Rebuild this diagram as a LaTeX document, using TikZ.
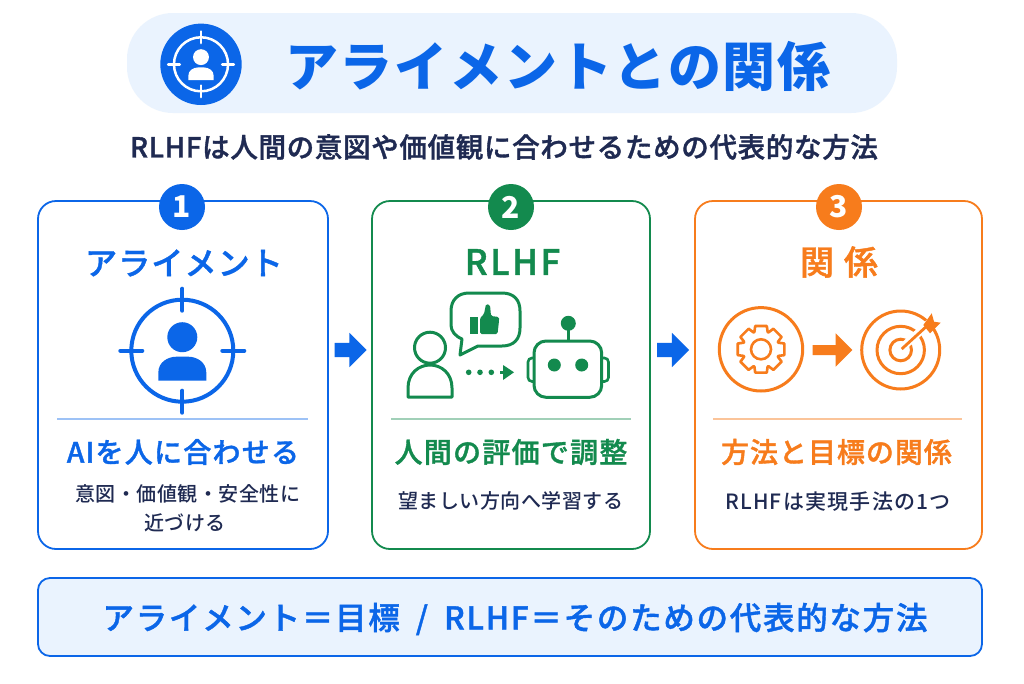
\documentclass[tikz,border=0pt]{standalone}
\usepackage{fontspec}
\setmainfont{Noto Sans CJK JP}
\newfontfamily\jpmedium{Noto Sans CJK JP Medium}
\newfontfamily\jpsemi{Noto Sans CJK JP Medium}[FakeBold=1.3]
\usetikzlibrary{shapes.arrows}
\definecolor{aiblue}{HTML}{0B66E8}
\definecolor{paleblue}{HTML}{EAF3FE}
\definecolor{rlgreen}{HTML}{138A4E}
\definecolor{relorange}{HTML}{F77C1C}
\definecolor{inkdark}{HTML}{1F2A52}
\tikzset{
	card/.style={draw,line width=1.8pt,rounded corners=18pt,fill=white,minimum height=348pt},
	badge/.style={circle,inner sep=0pt,minimum size=46pt,text=white,font=\fontsize{30}{32}\selectfont\bfseries},
	headtext/.style={font=\fontsize{32}{36}\jpsemi\selectfont\addfontfeature{LetterSpace=3.6}},
	subtext/.style={font=\fontsize{28}{32}\jpsemi\selectfont\addfontfeature{LetterSpace=4.5}},
	bodytext/.style={text=inkdark,font=\fontsize{20}{24}\jpmedium\selectfont\addfontfeature{LetterSpace=2.5}},
	blockarrow/.style={single arrow,fill=aiblue,inner sep=7pt,minimum height=32pt,single arrow head extend=10pt,single arrow head indent=0pt,xshift=-3pt},
	bigarrow/.style={fill=relorange},
	iconline/.style={line width=3pt,line join=round},
}
% target with a person inside: centre, scale, colour, ring width
\newcommand{\aimicon}[4]{
	\begin{scope}[shift={#1},scale=#2]
		\draw[#3,line width=#4] (0,0) circle (51);
		\foreach \a in {0,90,180,270}
			\draw[#3,line width=#4,line cap=round,rotate=\a] (40,0) -- (62,0);
		\fill[#3] (0,-13.5) circle (15);
		\fill[#3] (-24,30) -- (-24,22) .. controls (-24,11) and (-14,6) .. (-6,6) -- (6,6) .. controls (14,6) and (24,11) .. (24,22) -- (24,30) -- cycle;
	\end{scope}
}
\begin{document}
\begin{tikzpicture}[x=1pt,y=-1pt]
	\useasboundingbox (0,0) rectangle (1024,683);
	\fill[white] (0,0) rectangle (1024,683);
	% title
	\node[fill=paleblue,rounded corners=46pt,minimum width=770pt,minimum height=100pt] (titlepill) at (512,63) {};
	\fill[aiblue] (201,64.3) circle (40.7);
	\aimicon{(201,64.3)}{0.53}{white}{2.5pt}
	\node[text=aiblue,font=\fontsize{53}{60}\selectfont\bfseries\addfontfeature{LetterSpace=3.4}] (titletext) at (558,66) {アライメントとの関係};
	\node[text=inkdark,font=\fontsize{27.5}{32}\jpsemi\selectfont\addfontfeature{LetterSpace=2.5}] (subtitle) at (504,147) {RLHFは人間の意図や価値観に合わせるための代表的な方法};
	% cards
	\node[card,draw=aiblue,minimum width=290pt] (card1) at (183,375) {};
	\node[card,draw=rlgreen,minimum width=278pt] (card2) at (511,375) {};
	\node[card,draw=relorange,minimum width=287pt] (card3) at (838.5,375) {};
	\node[badge,fill=aiblue] (badge1) at (182,207) {1};
	\node[badge,fill=rlgreen] (badge2) at (511,207) {2};
	\node[badge,fill=relorange] (badge3) at (839,207) {3};
	\path ([yshift=25pt]card1.east) -- ([yshift=25pt]card2.west) node[midway,blockarrow] (arrow1) {};
	\path ([yshift=25pt]card2.east) -- ([yshift=25pt]card3.west) node[midway,blockarrow] (arrow2) {};
	% card 1
	\node[headtext,text=aiblue] (head1) at (184,263) {アライメント};
	\aimicon{(182.3,350.7)}{1}{aiblue}{4pt}
	\draw[line width=1.8pt,aiblue!40] (57,419) -- (308,419);
	\node[subtext,text=aiblue] (sub1) at (183,452) {AIを人に合わせる};
	\node[bodytext] (body1a) at (187.5,494) {意図・価値観・安全性に};
	\node[bodytext] (body1b) at (185,523) {近づける};
	% card 2
	\node[text=rlgreen,font=\fontsize{35}{38}\jpsemi\selectfont\addfontfeature{LetterSpace=7}] (head2) at (512.5,262) {RLHF};
	\draw[rlgreen,iconline] (430,347.7) circle (15.5);
	\draw[rlgreen,iconline] (408,397) -- (408,388) .. controls (408,373) and (419,365) .. (430,365) .. controls (441,365) and (452,373) .. (452,388) -- (452,397) -- cycle;
	\draw[rlgreen,iconline] (469,293) -- (502,293) .. controls (514,293) and (520,300) .. (520,311) -- (520,328) .. controls (520,339) and (514,346) .. (502,346) -- (478,346) -- (460,355) -- (462,339) .. controls (455,336) and (451,331) .. (451,325) -- (451,311) .. controls (451,300) and (458,293) .. (469,293) -- cycle;
	\fill[rlgreen] (470,317) rectangle (477.5,334);
	\fill[rlgreen,rounded corners=1.5pt] (480,318) -- (484,314) -- (486,304) -- (490,305) -- (491,316) -- (499,317) -- (499,321) -- (497.5,334) -- (480,334) -- cycle;
	\foreach \x in {468.7,480,491.3}
		\fill[rlgreen] (\x,372.3) circle (2.8);
	\draw[rlgreen,line width=2.6pt] (500,372.3) -- (508,372.3);
	\fill[rlgreen] (503,365) -- (514,372.3) -- (503,380) -- cycle;
	\draw[rlgreen,iconline] (568.3,323) -- (568.3,341);
	\fill[rlgreen] (568.3,323.3) circle (7.5);
	\draw[rlgreen,line width=2.6pt,rounded corners=4pt] (534,358) -- (528,358) -- (528,381.5) -- (534,381.5);
	\draw[rlgreen,line width=2.6pt,rounded corners=4pt] (602,358) -- (608.5,358) -- (608.5,381.5) -- (602,381.5);
	\draw[rlgreen,iconline,fill=white,rounded corners=12pt] (534,341) rectangle (601.7,397.3);
	\fill[rlgreen] (554.3,365) circle (6.5);
	\fill[rlgreen] (581.7,365) circle (6.5);
	\draw[line width=1.8pt,rlgreen!40] (391,419) -- (631,419);
	\node[subtext,text=rlgreen] (sub2) at (511,452) {人間の評価で調整};
	\node[bodytext] (body2) at (510.5,501) {望ましい方向へ学習する};
	% card 3
	\node[text=relorange,font=\fontsize{34}{38}\jpsemi\selectfont] (head3) at (839,262) {関\hspace{10pt}係};
	\draw[relorange,iconline] (761,349.3) circle (41.7);
	\begin{scope}[shift={(761,349.3)}]
		\draw[relorange,line width=2.6pt,line join=round]
			(-14:24)
			\foreach \a in {0,45,...,315} {
				-- (\a-14:24) -- (\a+14:24) -- (\a+21:18.5) -- (\a+24:18.5)
			} -- cycle;
		\draw[relorange,line width=2.6pt] (0,0) circle (10);
	\end{scope}
	\fill[bigarrow] (812.7,345) -- (835.7,345) -- (835.7,333.3) -- (852.3,350) -- (835.7,366.7) -- (835.7,355) -- (812.7,355) -- cycle;
	\draw[relorange,iconline] (900.7,350) circle (39);
	\draw[relorange,iconline] (900.7,350) circle (23.7);
	\draw[relorange,iconline] (900.7,350) circle (10.8);
	\draw[white,line width=8pt] (905,345) -- (937,316);
	\draw[relorange,line width=2.8pt] (901.7,349) -- (928,325);
	\fill[relorange] (923.3,325) -- (931.7,313.3) -- (934,321.7) -- (940.7,322.7) -- (930,333.3) -- cycle;
	\draw[line width=1.8pt,relorange!45] (713,419) -- (962,419);
	\node[text=relorange,font=\fontsize{28}{32}\jpsemi\selectfont\addfontfeature{LetterSpace=3.5}] (sub3) at (836.5,452) {方法と目標の関係};
	\node[text=inkdark,font=\fontsize{21}{24}\jpmedium\selectfont\addfontfeature{LetterSpace=6}] (body3) at (838,502) {RLHFは実現手法の1つ};
	% summary
	\node[draw=aiblue,line width=1.8pt,fill=paleblue,rounded corners=12pt,minimum width=944pt,minimum height=78pt] (summary) at (510,617) {};
	\node[text=aiblue,font=\fontsize{31.5}{34}\jpsemi\selectfont\addfontfeature{LetterSpace=5.5}] (summarytext) at (515,619) {アライメント＝目標\hspace{16pt}/\hspace{16pt}RLHF＝そのための代表的な方法};
\end{tikzpicture}
\end{document}
